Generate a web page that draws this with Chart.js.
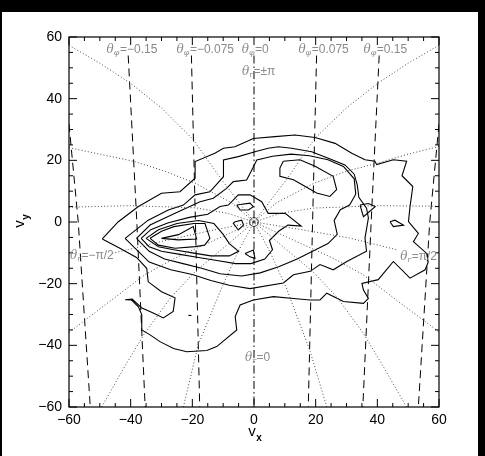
<!DOCTYPE html>
<html>
<head>
<meta charset="utf-8">
<script src="https://cdn.jsdelivr.net/npm/chart.js@4.4.0/dist/chart.umd.min.js"></script>
<style>
  html, body { margin: 0; padding: 0; background: #000; }
  #grafico { display: block; }
</style>
</head>
<body>
<canvas id="grafico" width="485" height="456"></canvas>
<script>
// eixos
const tickValues = [-60, -40, -20, 0, 20, 40, 60];

// contornos (v_x, v_y)
const contour1 = [[-49.2,-5.5],[-44.0,0.1],[-37.5,5.0],[-30.0,9.3],[-24.0,9.8],[-19.1,14.2],[-19.1,19.6],[-12.7,22.3],[-9.9,23.9],[-6.2,24.4],[-0.2,27.1],[6.8,27.7],[13.3,28.2],[19.8,27.4],[26.3,25.5],[31.7,22.3],[36,20.2],[39.2,19.7],[39.8,18.6],[45.2,20.2],[49.5,19.7],[48,15],[51.5,11.5],[50.6,5],[50.1,0.1],[53.3,-3.7],[51.7,-6.4],[56,-10.2],[56.5,-13],[55.5,-15.5],[50.6,-18.2],[45.2,-12.8],[40.3,-18.7],[35,-19.9],[35.5,-22.1],[37.1,-24.8],[35.5,-26.4],[29,-25.8],[23.6,-23.1],[21.4,-25.3],[18.2,-25.3],[12.8,-24.8],[6.3,-24.2],[-0.2,-25.3],[-4.5,-26.9],[-6.1,-30.7],[-5.6,-35],[-12.1,-40.4],[-15.3,-41.7],[-21.8,-42.1],[-26.1,-41.0],[-30.5,-38.8],[-33.7,-36.6],[-36.4,-35],[-36.4,-30],[-37.5,-27.5],[-39.7,-25.3],[-41.8,-25.2],[-39.5,-25.0],[-36.5,-27.8],[-32.7,-29.5],[-29.4,-31.1],[-26.2,-29.0],[-25.6,-24.6],[-30,-22.6],[-34.3,-19.4],[-34.8,-15.0],[-38.1,-11.5],[-43.5,-8.5],[-49.2,-5.5]];
const contour2 = [[-41.8,-5.3],[-34.3,0.6],[-27.8,3.9],[-22.9,5.5],[-19.1,8.8],[-14.3,9.8],[-9.9,14.7],[-9.9,20.1],[-5.1,21.2],[0.3,22.8],[4.6,23.9],[7.9,24.4],[12.2,23.9],[18.7,22.8],[24.1,20.7],[29.5,18.5],[32.5,15.5],[33.5,12],[34,8],[36.5,4.5],[37.1,1.3],[36,-5.2],[36.5,-9.5],[30.1,-12.8],[25.7,-15.5],[21.4,-13.8],[18.2,-16.0],[12.8,-17.1],[9.5,-19.8],[-1.3,-21.6],[-8,-20.5],[-14,-19],[-20,-17],[-27,-15.5],[-34,-13],[-41.8,-5.3]];
const contour3 = [[-38.1,-5.3],[-33.7,-1.0],[-25.6,2.8],[-17.5,6.6],[-13.2,7.7],[-8.9,10.9],[-6.7,13.1],[-2.4,13.6],[-0.7,16.9],[0.9,20.1],[6,21.3],[12,22],[18,21.5],[24,20.2],[29,18],[32.5,14],[33,9],[31,5.5],[28,4],[26,0.5],[27,-4],[24,-7],[19,-9.5],[14,-12],[8,-14.5],[2,-16.5],[-4,-17.5],[-11,-16.8],[-17,-15],[-23,-13.5],[-29,-12],[-34,-9.5],[-38.1,-5.3]];
const contour4 = [[-36.6,-5.3],[-33.5,-2.5],[-28,-0.3],[-21,1.5],[-15,2.5],[-11,5],[-8.3,5.5],[-5.1,8.8],[-1.3,8.8],[2.5,6.6],[4.6,2.8],[10.1,2.8],[15.3,-1.3],[11,-1],[8,-3],[5,-6],[6,-9],[3.5,-12],[-1,-13.5],[-6,-13.5],[-12,-12.5],[-18,-11.5],[-24,-10.5],[-30,-9.5],[-34,-8],[-36.6,-5.3]];
const contour5 = [[-35,-5.3],[-31,-2.5],[-25,-0.5],[-18,0.5],[-13,-0.5],[-10,-4],[-8,-7],[-5,-9.5],[-8,-11],[-14,-11],[-20,-10],[-26,-9],[-31,-8],[-35,-5.3]];
const contour6 = [[-33.7,-5.3],[-30,-3],[-26,-1.5],[-19.5,-0.5],[-15.9,-0.5],[-14.3,-5.3],[-16,-7.5],[-19.1,-8.0],[-25.6,-8.5],[-31,-7.5],[-33.7,-5.3]];
const contour7 = [[-30.0,-5.3],[-24.5,-4.1],[-19.7,-1.5],[-18.6,-5.5],[-24.5,-5.8],[-30,-5.3]];
const loopTopRight = [[9.5,19.7],[14.9,20.2],[19.8,18.1],[25.7,14.8],[26.8,10.5],[24.6,8.3],[20.3,9.4],[16.5,11.6],[12.8,13.7],[8.4,14.8],[8.4,17.5],[9.5,19.7]];
const loopAbove = [[-5.6,5.5],[-1.3,6.1],[-0.2,5.0],[-1.8,3.9],[-4.5,3.9],[-5.6,5.5]];
const loopLeft = [[-6.1,0.1],[-4.0,0.6],[-3.4,-1.0],[-5.1,-2.6],[-6.7,-0.4],[-6.1,0.1]];
const loopBelow = [[-2.9,-10.2],[-0.2,-9.1],[0.3,-11.8],[-1.3,-11.3],[-2.9,-10.2]];
const loopRight1 = [[34.4,5.5],[37.1,6.0],[39.3,5.0],[35.5,1.7],[35,3.4],[34.4,5.5]];
const loopRight2 = [[44.1,0.1],[45.7,0.6],[48.5,-1.0],[45.2,-1.5],[44.1,0.1]];
const loopTiny = [[-21.3,-30.3],[-20.3,-30.3]];

// linhas de theta_phi constante
const phiM225 = [[-60.4,36],[-57,0],[-53.1,-60]];
const phiM150 = [[-40.8,54],[-38,0],[-35.3,-60]];
const phiM075 = [[-20.3,54],[-19,0],[-17.6,-60]];
const phiZero = [[0,54],[0,-60]];
const phiP075 = [[20.3,54],[19,0],[17.6,-60]];
const phiP150 = [[40.6,54],[38,0],[35.3,-60]];
const phiP225 = [[60.4,36],[57,0],[53.3,-60]];

// linhas de theta_r constante (pontilhadas)
const rA_left  = [[-60,57.3],[-50,51.5],[-40.2,45.1],[-30,37],[-19.7,26.7],[-10.5,13.7],[-5,6.5],[0,0]];
const rB_left  = [[-60,24.1],[-50,22],[-39.1,19.7],[-29,16.5],[-19.1,12.6],[-7.2,6.2],[0,0]];
const rC_left  = [[-60,4.8],[-40,5.3],[-19,4.6],[-8.5,2.8],[0,0]];
const rD_left  = [[-46,-10.2],[-30,-6.3],[-15,-3],[0,0]];
const rE_left  = [[-60,-35.8],[-46.7,-25.7],[-35.4,-17.1],[-25.6,-11.7],[-13.7,-6.3],[0,0]];
const rF_left  = [[-49.4,-60],[-42,-47],[-35.4,-36],[-27,-24.5],[-19,-16],[-10,-8.5],[0,0]];
const rG_left  = [[-22.9,-60],[-18.1,-39.8],[-10.5,-21.4],[-5.1,-9.5],[0,0]];
const rA_right = [[60,57.3],[50,51.5],[40.3,45.1],[30,37],[19.8,27.2],[10.5,13.7],[5,6.5],[0,0]];
const rB_right = [[60,24.5],[50,22],[40.1,19.1],[30,16.5],[19.5,12.6],[7.2,6.2],[0,0]];
const rC_right = [[60,5.1],[40,5.3],[19,4.5],[8.5,2.8],[0,0]];
const rD_right = [[0,0],[15,-2.4],[31,-5.2],[46.3,-9]];
const rE_right = [[59.8,-35.5],[46.7,-25.7],[35.4,-17.1],[25.6,-11.7],[13.7,-6.3],[0,0]];
const rF_right = [[49.5,-60],[42,-47],[35.4,-36],[27,-24.5],[19,-16],[10,-8.5],[0,0]];
const rG_right = [[23.6,-60],[18.2,-41.9],[10.5,-21.4],[5.1,-9.5],[0,0]];

// rotulos
const phiLabels = [
  { sub: "\u03c6", text: "=\u22120.15", x: -47.8, y: 55.8 },
  { sub: "\u03c6", text: "=\u22120.075", x: -25.1, y: 55.8 },
  { sub: "\u03c6", text: "=0", x: -4.0, y: 55.8 },
  { sub: "\u03c6", text: "=0.075", x: 14.4, y: 55.8 },
  { sub: "\u03c6", text: "=0.15", x: 35.5, y: 55.8 }
];
const rLabels = [
  { sub: "r", text: "=\u00b1\u03c0", x: -3.9, y: 48.7 },
  { sub: "r", text: "=\u2212\u03c0/2", x: -59.7, y: -11.0 },
  { sub: "r", text: "=\u03c0/2", x: 47.4, y: -11.4 },
  { sub: "r", text: "=0", x: -2.9, y: -44.1 }
];

function toXY(pts) {
  return pts.map(function (p) { return { x: p[0], y: p[1] }; });
}
function linha(pts, cor, larg, dash) {
  return {
    type: "scatter",
    showLine: true,
    data: toXY(pts),
    borderColor: cor,
    borderWidth: larg,
    borderDash: dash || [],
    pointRadius: 0,
    fill: false,
    tension: 0
  };
}

let datasets = [];
[rA_left, rB_left, rC_left, rD_left, rE_left, rF_left, rG_left,
 rA_right, rB_right, rC_right, rD_right, rE_right, rF_right, rG_right].forEach(function (c) {
  datasets.push(linha(c, "#4a4a4a", 1, [1, 2.2]));
});
[phiM225, phiM150, phiM075, phiP075, phiP150, phiP225].forEach(function (c) {
  datasets.push(linha(c, "#000", 1, [8, 5]));
});
datasets.push(linha(phiZero, "#000", 1, [8, 3, 1.5, 3]));
[contour1, contour2, contour3, contour4, contour5, contour6, contour7,
 loopTopRight, loopAbove, loopLeft, loopBelow, loopRight1, loopRight2, loopTiny].forEach(function (c) {
  datasets.push(linha(c, "#000", 1.1));
});
// marca na origem
datasets.push({ type: "scatter", data: [{ x: 0, y: 0 }], pointRadius: 4.5, pointBorderWidth: 0.8,
  pointBorderColor: "#333", pointBackgroundColor: "rgba(0,0,0,0)" });
datasets.push({ type: "scatter", data: [{ x: 0, y: 0 }], pointRadius: 1.4, pointBorderWidth: 0,
  pointBackgroundColor: "#000" });

function fmt(v) {
  return v < 0 ? "\u2212" + Math.abs(v) : String(v);
}

function drawTheta(ctx, x, y, sub, rest) {
  ctx.font = 'italic 12px "DejaVu Serif"';
  ctx.fillText("\u03b8", x, y);
  let w = ctx.measureText("\u03b8").width;
  ctx.font = 'italic 8px "DejaVu Serif"';
  ctx.fillText(sub, x + w, y + 3);
  w += ctx.measureText(sub).width;
  ctx.font = '12px "Liberation Sans"';
  ctx.fillText(rest, x + w + 0.5, y);
}

const decor = {
  id: "decor",
  beforeDraw(chart) {
    const ctx = chart.ctx;
    ctx.save();
    ctx.fillStyle = "#000";
    ctx.fillRect(0, 0, chart.width, chart.height);
    ctx.fillStyle = "#fff";
    ctx.fillRect(2, 12, 476, 444);
    ctx.restore();
  },
  afterDraw(chart) {
    const ctx = chart.ctx;
    const a = chart.chartArea;
    const sx = chart.scales.x, sy = chart.scales.y;
    ctx.save();
    // moldura
    ctx.strokeStyle = "#000";
    ctx.lineWidth = 1.2;
    ctx.strokeRect(a.left, a.top, a.right - a.left, a.bottom - a.top);
    // marcas
    ctx.lineWidth = 1;
    ctx.beginPath();
    for (let v = -60; v <= 60; v += 5) {
      const len = (v % 20 === 0) ? 8 : 4;
      const px = sx.getPixelForValue(v);
      const py = sy.getPixelForValue(v);
      ctx.moveTo(px, a.bottom); ctx.lineTo(px, a.bottom - len);
      ctx.moveTo(px, a.top); ctx.lineTo(px, a.top + len);
      ctx.moveTo(a.left, py); ctx.lineTo(a.left + len, py);
      ctx.moveTo(a.right, py); ctx.lineTo(a.right - len, py);
    }
    ctx.stroke();
    // rotulos theta
    ctx.fillStyle = "#8a8a8a";
    ctx.textBaseline = "middle";
    ctx.textAlign = "left";
    phiLabels.concat(rLabels).forEach(function (l) {
      drawTheta(ctx, sx.getPixelForValue(l.x), sy.getPixelForValue(l.y), l.sub, l.text);
    });
    // titulos dos eixos
    ctx.fillStyle = "#000";
    const cx = (a.left + a.right) / 2;
    ctx.font = '15px "Liberation Sans"';
    ctx.textAlign = "center";
    ctx.fillText("v", cx - 2, 432);
    ctx.font = 'bold 10px "Liberation Sans"';
    ctx.fillText("x", cx + 5, 438);
    ctx.translate(20, (a.top + a.bottom) / 2);
    ctx.rotate(-Math.PI / 2);
    ctx.font = '15px "Liberation Sans"';
    ctx.fillText("v", -2, 0);
    ctx.font = 'bold 10px "Liberation Sans"';
    ctx.fillText("y", 5, 6);
    ctx.restore();
  }
};

const eixo = function (tam) {
  return {
    type: "linear",
    min: -60,
    max: 60,
    afterBuildTicks(s) { s.ticks = tickValues.map(function (v) { return { value: v }; }); },
    ticks: {
      callback: fmt,
      color: "#000",
      font: { family: "Liberation Sans", size: 14 },
      padding: tam,
      maxRotation: 0,
      autoSkip: false
    },
    grid: { display: false, drawTicks: false },
    border: { display: false }
  };
};

const xAxis = eixo(5);
xAxis.afterFit = function (s) { s.height = 49; };
const yAxis = eixo(7);
yAxis.afterFit = function (s) { s.width = 69; };

new Chart(document.getElementById("grafico"), {
  type: "scatter",
  data: { datasets: datasets },
  options: {
    responsive: false,
    animation: false,
    layout: { padding: { top: 37, right: 46, bottom: 0, left: 0 } },
    plugins: { legend: { display: false }, tooltip: { enabled: false } },
    scales: { x: xAxis, y: yAxis }
  },
  plugins: [decor]
});
</script>
</body>
</html>
